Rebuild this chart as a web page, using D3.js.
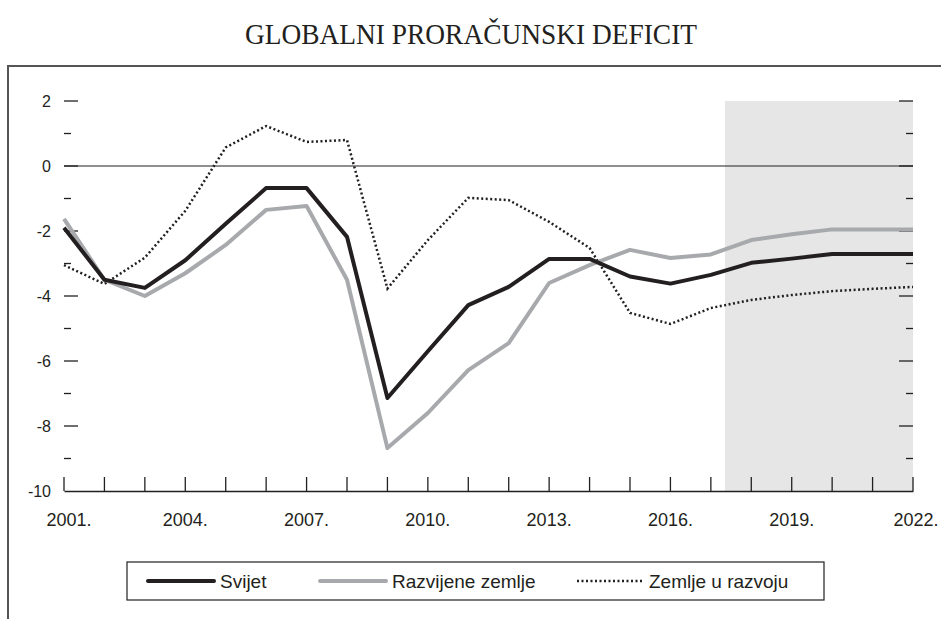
<!DOCTYPE html>
<html>
<head>
<meta charset="utf-8">
<script src="https://cdn.jsdelivr.net/npm/d3@7"></script>
<style>
  body { margin: 0; background: #fff; }
  text { font-family: "Liberation Sans", Arial, sans-serif; fill: #231f20; }
</style>
</head>
<body>
<script>
// podaci (ocitano sa slike)
const years = d3.range(2001, 2023)
const svijet = [-1.9, -3.5, -3.75, -2.9, -1.78, -0.68, -0.68, -2.18, -7.14, -5.7, -4.28, -3.72,
  -2.86, -2.86, -3.4, -3.62, -3.35, -2.98, -2.85, -2.71, -2.71, -2.71]
const razvijene = [-1.63, -3.5, -4.0, -3.3, -2.43, -1.35, -1.23, -3.5, -8.68, -7.6, -6.28, -5.45,
  -3.6, -3.05, -2.58, -2.83, -2.72, -2.28, -2.1, -1.95, -1.95, -1.95]
const uRazvoju = [-3.05, -3.63, -2.82, -1.38, 0.57, 1.23, 0.74, 0.8, -3.77, -2.28, -0.98, -1.05,
  -1.72, -2.52, -4.52, -4.86, -4.37, -4.12, -3.97, -3.85, -3.78, -3.72]
const yTicks = [2, 0, -2, -4, -6, -8, -10]
const xLabels = [2001, 2004, 2007, 2010, 2013, 2016, 2019, 2022]
const projekcijaOd = 2017.35

const svg = d3.select('body')
  .append('svg')
  .attr('width', 941)
  .attr('height', 619)

// naslov
svg.append('text')
  .attr('x', 471).attr('y', 44)
  .attr('text-anchor', 'middle')
  .attr('textLength', 452)
  .attr('lengthAdjust', 'spacingAndGlyphs')
  .style('font-family', '"Liberation Serif", "Times New Roman", serif')
  .style('font-size', '29px')
  .text('GLOBALNI PRORAČUNSKI DEFICIT')

// okvir
svg.append('rect')
  .attr('x', 8).attr('y', 66)
  .attr('width', 960).attr('height', 600)
  .attr('fill', 'none')
  .attr('stroke', '#555')
  .attr('stroke-width', 2)

const x = d3.scaleLinear().domain([2001, 2022]).range([64, 913])
const y = d3.scaleLinear().domain([-10, 2]).range([491, 101])

// zasjenjeno podrucje projekcije
svg.append('rect')
  .attr('x', x(projekcijaOd)).attr('y', y(2))
  .attr('width', x(2022) - x(projekcijaOd))
  .attr('height', y(-10) - y(2))
  .attr('fill', '#e6e6e6')

// lijeva os
const yMinor = d3.range(-9, 2, 2)
svg.append('g').selectAll('line').data(yTicks.filter(d => d > -10)).join('line')
  .attr('x1', 64).attr('x2', 78)
  .attr('y1', d => y(d)).attr('y2', d => y(d))
  .attr('stroke', '#231f20').attr('stroke-width', 1.3)
svg.append('g').selectAll('line').data(yMinor).join('line')
  .attr('x1', 64).attr('x2', 71)
  .attr('y1', d => y(d)).attr('y2', d => y(d))
  .attr('stroke', '#231f20').attr('stroke-width', 1.3)
svg.append('g').selectAll('text').data(yTicks).join('text')
  .attr('x', 51).attr('y', d => y(d) + 6)
  .attr('text-anchor', 'end')
  .style('font-size', '16px')
  .text(d => d)

// desna os
svg.append('g').selectAll('line').data(yTicks.filter(d => d > -10)).join('line')
  .attr('x1', 899).attr('x2', 913)
  .attr('y1', d => y(d)).attr('y2', d => y(d))
  .attr('stroke', '#231f20').attr('stroke-width', 1.3)
svg.append('g').selectAll('line').data(yMinor).join('line')
  .attr('x1', 906).attr('x2', 913)
  .attr('y1', d => y(d)).attr('y2', d => y(d))
  .attr('stroke', '#231f20').attr('stroke-width', 1.3)

// nulta linija
svg.append('line')
  .attr('x1', x(2001)).attr('x2', x(2022))
  .attr('y1', y(0)).attr('y2', y(0))
  .attr('stroke', '#231f20').attr('stroke-width', 1.2)

// x os
const axisX = d3.axisBottom(x)
  .tickValues(years)
  .tickSize(0)
  .tickFormat('')
svg.append('g').attr('transform', `translate(0, ${y(-10)})`).call(axisX)
  .call(g => g.select('.domain').attr('stroke', '#231f20').attr('stroke-width', 1.3))
svg.append('g').selectAll('line').data(years).join('line')
  .attr('x1', d => x(d)).attr('x2', d => x(d))
  .attr('y1', y(-10)).attr('y2', y(-10) - 14)
  .attr('stroke', '#231f20').attr('stroke-width', 1.3)
svg.append('g').selectAll('text').data(xLabels).join('text')
  .attr('x', d => x(d) + (d === 2001 ? 5 : d === 2022 ? 3 : 0))
  .attr('y', 526)
  .attr('text-anchor', 'middle')
  .style('font-size', '18px')
  .text(d => d + '.')

// linije
const line = d3.line().x((d, i) => x(years[i])).y(d => y(d))

svg.append('path').datum(uRazvoju)
  .attr('d', line)
  .attr('fill', 'none')
  .attr('stroke', '#231f20')
  .attr('stroke-width', 2.5)
  .attr('stroke-dasharray', '2,2.5')

svg.append('path').datum(razvijene)
  .attr('d', line)
  .attr('fill', 'none')
  .attr('stroke', '#a7a9ac')
  .attr('stroke-width', 4)
  .attr('stroke-linejoin', 'round')

svg.append('path').datum(svijet)
  .attr('d', line)
  .attr('fill', 'none')
  .attr('stroke', '#231f20')
  .attr('stroke-width', 4)
  .attr('stroke-linejoin', 'round')

// legenda
const legend = svg.append('g')
legend.append('rect')
  .attr('x', 127).attr('y', 562)
  .attr('width', 697).attr('height', 38)
  .attr('fill', '#fff')
  .attr('stroke', '#231f20')
  .attr('stroke-width', 1.2)

const legendItems = [
  { label: 'Svijet', color: '#231f20', width: 4, dash: null, x0: 148 },
  { label: 'Razvijene zemlje', color: '#a7a9ac', width: 4, dash: null, x0: 320 },
  { label: 'Zemlje u razvoju', color: '#231f20', width: 2.5, dash: '2,2.5', x0: 577 }
]
legendItems.forEach(it => {
  legend.append('line')
    .attr('x1', it.x0).attr('x2', it.x0 + 66)
    .attr('y1', 581).attr('y2', 581)
    .attr('stroke', it.color)
    .attr('stroke-width', it.width)
    .attr('stroke-linecap', it.dash ? 'butt' : 'round')
    .attr('stroke-dasharray', it.dash)
  legend.append('text')
    .attr('x', it.x0 + 72).attr('y', 588)
    .style('font-size', '19px')
    .text(it.label)
})
</script>
</body>
</html>
